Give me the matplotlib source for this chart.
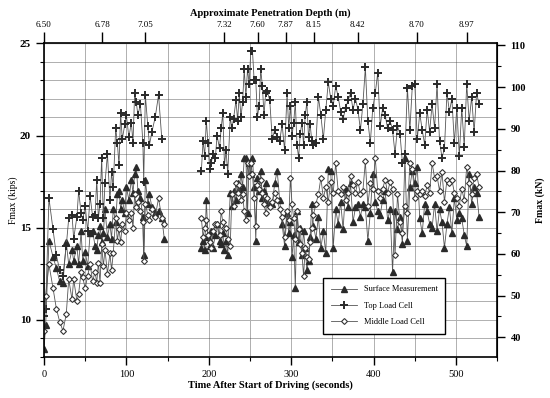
import numpy as np
import matplotlib
matplotlib.use("Agg")
import matplotlib.pyplot as plt
from matplotlib.ticker import MultipleLocator

plt.rcParams["font.family"] = ["Liberation Serif", "DejaVu Serif"]

# first driving segment
time_a = [0, 2, 6, 11, 15, 19, 23, 27, 30, 34,
          36, 40, 42, 45, 47, 50, 53, 56, 59, 62,
          64, 66, 68, 70, 72, 74, 77, 80, 82, 84,
          87, 89, 91, 93, 95, 98, 100, 103, 106, 108,
          110, 112, 114, 117, 120, 121, 123, 126, 128, 131,
          135, 139, 143, 146]
surface_a = [8.4, 9.7, 14.3, 13.4, 12.8, 12.1, 12.0, 14.2, 13.0, 13.8,
             13.2, 14.0, 13.0, 14.8, 13.2, 13.7, 12.9, 14.7, 14.8, 14.0,
             13.8, 14.6, 15.1, 14.2, 14.7, 16.0, 14.5, 15.2, 14.4, 16.0,
             15.3, 16.8, 17.0, 16.0, 16.5, 15.8, 17.2, 16.5, 17.6, 16.9,
             17.9, 18.3, 17.0, 16.6, 15.6, 13.5, 17.6, 16.3, 16.8, 16.1,
             15.8, 15.9, 15.5, 14.4]
top_a = [10.2, 10.6, 16.6, 14.9, 13.5, 12.7, 12.4, 14.0, 15.5, 15.7,
         14.4, 15.6, 17.0, 15.8, 15.4, 16.2, 14.8, 16.7, 15.6, 15.7,
         17.6, 15.5, 16.3, 18.8, 15.5, 17.4, 19.0, 16.5, 18.0, 17.2,
         20.4, 19.6, 18.4, 21.2, 19.8, 20.6, 21.1, 19.9, 20.7, 19.6,
         22.3, 21.8, 21.1, 21.7, 19.6, 17.5, 22.2, 20.5, 19.5, 20.2,
         21.0, 22.2, 19.8, np.nan]
middle_a = [9.4, 11.3, 13.0, 11.7, 10.6, 9.9, 9.4, 10.3, 12.2, 11.1,
            12.2, 11.0, 11.4, 12.6, 12.3, 11.7, 12.4, 13.0, 12.1, 12.6,
            12.0, 13.1, 12.0, 14.1, 12.9, 13.8, 12.5, 13.6, 12.7, 13.6,
            15.5, 14.3, 14.9, 14.2, 15.2, 14.8, 15.8, 15.4, 15.8, 15.0,
            16.8, 16.1, 16.4, 15.9, 15.3, 13.2, 16.3, 15.7, 15.4, 16.0,
            15.6, 16.6, 15.5, 15.2]

# second driving segment
time_b = [191, 193, 195, 197, 199, 201, 203, 205, 208, 210,
          213, 215, 217, 219, 221, 223, 226, 228, 230, 233,
          235, 237, 239, 241, 243, 245, 247, 249, 251, 253,
          255, 257, 259, 261, 263, 265, 267, 269, 271, 274,
          277, 280, 283, 286, 289, 292, 295, 297, 299, 301,
          303, 305, 307, 309, 311, 313, 315, 317, 319, 321,
          323, 325, 327, 330, 333, 336, 339, 342, 345, 348,
          351, 354, 357, 360, 363, 366, 369, 372, 375, 378,
          381, 384, 387, 390, 393, 396, 399, 402, 405, 408,
          411, 414, 417, 420, 423, 426, 429, 432, 435, 438,
          441, 444, 447, 450, 453, 456, 459, 462, 465, 468,
          471, 474, 477, 480, 483, 486, 489, 492, 495, 498,
          501, 504, 507, 510, 513, 516, 519, 522, 525, 528]
surface_b = [13.9, 14.3, 13.8, 16.5, 14.5, 14.0, 14.8, 13.9, 14.6, 15.2,
             14.3, 14.1, 14.7, 13.8, 14.3, 13.5, 16.9, 16.2, 17.0, 16.5,
             17.4, 17.1, 17.9, 17.2, 18.8, 18.8, 15.8, 18.5, 17.9, 18.8,
             17.2, 14.3, 17.7, 17.0, 18.1, 16.6, 17.0, 17.4, 16.4, 16.3,
             16.3, 17.4, 18.1, 16.5, 15.2, 14.0, 15.8, 14.7, 15.3, 13.4,
             14.6, 11.7, 15.9, 14.2, 15.0, 13.5, 14.8, 13.9, 12.7, 13.2,
             14.5, 16.3, 15.1, 14.4, 15.6, 13.9, 14.8, 13.6, 18.2, 18.1,
             13.9, 16.0, 15.2, 16.4, 14.9, 17.1, 16.1, 17.4, 15.3, 16.1,
             16.3, 15.6, 16.3, 16.1, 14.3, 15.8, 17.9, 16.4, 15.9, 15.7,
             16.5, 17.0, 15.4, 16.0, 12.6, 15.9, 14.9, 15.6, 14.1, 18.8,
             14.3, 17.2, 18.1, 17.4, 18.3, 15.5, 14.7, 16.3, 15.9, 15.2,
             15.0, 16.3, 14.8, 16.0, 15.3, 13.9, 15.2, 16.1, 14.7, 16.6,
             15.4, 15.8, 15.5, 14.6, 14.0, 17.9, 16.3, 17.2, 16.9, 15.6]
top_b = [18.1, 19.7, 18.9, 20.8, 19.6, 18.2, 18.5, 19.0, 18.8, 20.0,
         19.3, 20.4, 21.2, 18.4, 19.2, 17.9, 21.0, 20.4, 20.9, 21.9,
         20.8, 22.3, 21.0, 21.8, 23.6, 22.1, 23.6, 22.8, 24.6, 24.6,
         23.0, 23.0, 21.0, 21.6, 23.6, 22.7, 21.1, 22.3, 22.4, 21.9,
         19.8, 20.3, 19.9, 19.7, 20.6, 19.2, 22.3, 20.4, 21.6, 20.0,
         20.7, 21.8, 19.5, 18.8, 20.1, 20.7, 19.5, 21.1, 21.8, 19.9,
         20.6, 19.7, 19.5, 19.6, 22.1, 21.1, 19.8, 21.4, 22.9, 22.0,
         21.6, 22.7, 22.1, 21.3, 20.9, 21.5, 21.9, 22.3, 21.4, 22.0,
         21.4, 20.3, 21.7, 23.7, 20.8, 19.6, 21.5, 22.3, 23.4, 20.5,
         21.5, 21.1, 20.4, 20.8, 20.3, 19.0, 20.5, 20.1, 18.5, 19.0,
         22.6, 20.3, 22.7, 22.8, 19.8, 21.2, 20.3, 19.5, 21.4, 20.2,
         21.7, 20.4, 22.8, 19.7, 18.8, 19.3, 22.3, 21.3, 22.0, 19.6,
         21.5, 18.9, 21.5, 19.4, 22.8, 20.8, 22.1, 20.2, 22.3, 21.7]
middle_b = [15.5, 14.5, 15.0, 15.4, 14.6, 14.2, 13.9, 14.8, 15.2, 15.2,
            14.6, 15.9, 15.3, 15.0, 15.0, 14.4, 14.0, 16.8, 16.2, 17.4,
            16.9, 17.3, 16.5, 16.8, 15.9, 15.4, 18.5, 17.8, 18.5, 17.9,
            16.6, 15.1, 17.3, 17.1, 17.6, 16.9, 16.3, 15.8, 16.6, 16.1,
            16.4, 16.9, 16.5, 16.0, 15.6, 14.5, 15.9, 15.4, 17.7, 16.3,
            15.5, 14.4, 15.9, 14.9, 14.1, 13.6, 12.4, 13.9, 13.4, 13.3,
            14.2, 15.0, 15.7, 16.3, 16.8, 17.7, 16.6, 17.2, 16.4, 17.5,
            16.9, 18.5, 17.0, 16.8, 17.2, 16.5, 16.9, 17.8, 17.3, 16.9,
            17.5, 16.8, 17.0, 18.6, 16.2, 17.4, 17.1, 18.8, 17.0, 16.6,
            17.1, 17.6, 16.9, 17.5, 17.1, 13.5, 16.8, 15.3, 14.7, 16.2,
            15.8, 18.5, 18.2, 16.6, 17.0, 16.8, 17.0, 16.7, 17.3, 16.9,
            18.5, 17.7, 17.8, 17.0, 18.0, 16.4, 17.6, 17.4, 17.6, 16.9,
            16.6, 16.2, 17.1, 16.5, 18.3, 17.4, 16.8, 17.7, 17.9, 17.2]

# top axis: penetration depth read at these times
depth_times = [0, 70.4, 122.8, 218.8, 259.4, 293.1, 327.6, 380.7, 452.3, 512.9]
depth_labels = ["6.50", "6.78", "7.05", "7.32", "7.60", "7.87", "8.15", "8.42", "8.70", "8.97"]

KIPS_TO_KN = 4.42

fig = plt.figure(figsize=(5.5, 3.98), dpi=100)
ax = fig.add_axes([0.08, 0.104, 0.824, 0.787])

t = np.concatenate([time_a, [np.nan], time_b])
series = [
    ("Surface Measurement", surface_a, surface_b, dict(marker="^", ms=4, mfc="#2a2a2a", mec="#2a2a2a")),
    ("Top Load Cell", top_a, top_b, dict(marker="+", ms=6, mew=1.4, mec="#2a2a2a")),
    ("Middle Load Cell", middle_a, middle_b, dict(marker="D", ms=3, mfc="white", mec="#333333", mew=0.8)),
]
for name, a, b, style in series:
    y = np.concatenate([a, [np.nan], b])
    ax.plot(t, y, color="#555555", lw=0.6, label=name, **style)

ax.set_xlim(0, 550)
ax.set_ylim(8, 25)
ax.xaxis.set_major_locator(MultipleLocator(100))
ax.xaxis.set_minor_locator(MultipleLocator(50))
ax.yaxis.set_major_locator(MultipleLocator(5))
ax.yaxis.set_minor_locator(MultipleLocator(1))

ax.grid(which="major", color="#b0b0b0", lw=0.7, ls="-")
ax.grid(which="minor", color="#444444", lw=0.6, ls=(0, (1.2, 1.2)))
ax.set_axisbelow(True)

for s in ax.spines.values():
    s.set_linewidth(1.2)
ax.tick_params(which="major", length=6, width=1.0, labelsize=8)
ax.tick_params(which="minor", length=3, width=0.8)
ax.tick_params(axis="x", labelsize=7.5)
for lab in ax.get_yticklabels():
    lab.set_fontweight("bold")

ax.set_xlabel("Time After Start of Driving (seconds)", fontsize=7.5, fontweight="bold", labelpad=1)
ax.set_ylabel("Fmax (kips)", fontsize=7)
ax.yaxis.set_label_coords(-0.058, 0.5)

top = ax.secondary_xaxis("top")
top.set_xticks(depth_times)
top.set_xticklabels(depth_labels)
top.tick_params(length=8, width=1.0, labelsize=6.5, pad=2)
top.set_xlabel("Approximate Penetration Depth (m)", fontsize=7.5, fontweight="bold", labelpad=4)

right = ax.secondary_yaxis("right", functions=(lambda k: k * KIPS_TO_KN, lambda n: n / KIPS_TO_KN))
right.yaxis.set_major_locator(MultipleLocator(10))
right.yaxis.set_minor_locator(MultipleLocator(5))
right.tick_params(which="major", length=6, width=1.0, labelsize=7.5)
right.tick_params(which="minor", length=3, width=0.8)
for lab in right.get_yticklabels():
    lab.set_fontweight("bold")
right.set_ylabel("Fmax (kN)", fontsize=7, fontweight="bold", labelpad=7)

leg = ax.legend(loc="lower left", bbox_to_anchor=(0.607, 0.06), fontsize=6,
                frameon=True, fancybox=False, handlelength=3.2, borderpad=0.9,
                labelspacing=1.0, framealpha=1)
leg.get_frame().set_edgecolor("black")
leg.get_frame().set_linewidth(1.0)

fig.savefig("out.png", dpi=100)
